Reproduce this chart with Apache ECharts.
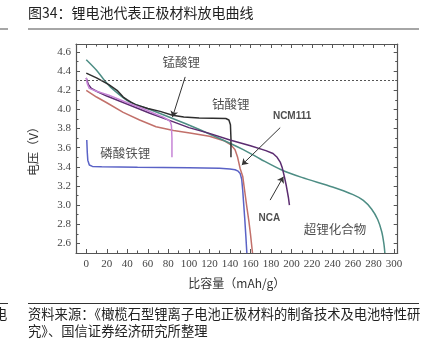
<!DOCTYPE html>
<html><head><meta charset="utf-8">
<script src="https://cdn.jsdelivr.net/npm/echarts@6/dist/echarts.min.js"></script>
<style>html,body{margin:0;padding:0;background:#fff}#c{width:439px;height:346px}</style>
</head><body><div id="c"></div>
<script>
// ---- tick labels ----
const xTickLabels = [0,20,40,60,80,100,120,140,160,180,200,220,240,260,280,300];
const xMinorTicks = [10,30,50,70,90,110,130,150,170,190,210,230,250,270,290];
const yTickLabels = [2.6,2.8,3.0,3.2,3.4,3.6,3.8,4.0,4.2,4.4,4.6];
const yMinorTicks = [2.7,2.9,3.1,3.3,3.5,3.7,3.9,4.1,4.3,4.5];
const cutoffVoltage = 4.3;

// ---- series: capacity (mAh/g) and voltage (V) ----
const lfpCap  = [0.5,1,1.5,3,6,15,50,100,130,140,145,148,150,151.5,152.5,153.5,154.5,155.5,156.5];
const lfpVolt = [3.68,3.55,3.47,3.42,3.405,3.40,3.395,3.39,3.385,3.378,3.37,3.355,3.33,3.27,3.15,3.0,2.85,2.68,2.5];

const lmoCap  = [0,1,3,10,22,40,55,68,75,80,82,83,83.5,83.5];
const lmoVolt = [4.33,4.27,4.22,4.19,4.15,4.07,4.01,3.95,3.92,3.89,3.87,3.83,3.7,3.5];

const lcoCap  = [0,10,22,30,36,40,44,48,60,72,84,95,110,136,139,140.5,141,141];
const lcoVolt = [4.38,4.33,4.26,4.2,4.13,4.10,4.075,4.05,4.01,3.98,3.94,3.92,3.91,3.905,3.89,3.84,3.7,3.5];

const ncmCap  = [0,10,20,36,52,68,85,101,120,135,141,145,147.5,150,152.5,154.5,156.5,158.5,160,162];
const ncmVolt = [4.2,4.13,4.07,3.97,3.89,3.82,3.78,3.755,3.72,3.67,3.63,3.58,3.5,3.38,3.3,3.14,2.98,2.83,2.7,2.5];

const ncaCap  = [0,2,5,10,20,39,62,85,100,120,140,160,175,182,186,189,191,193,195,197,198];
const ncaVolt = [4.33,4.26,4.22,4.19,4.14,4.06,3.96,3.87,3.81,3.75,3.68,3.62,3.57,3.54,3.5,3.45,3.39,3.3,3.2,3.08,3.0];

const lrCap   = [0,10,18,25,42,62,97,125,153,170,190,210,240,260,270,278,284,288,290,291];
const lrVolt  = [4.52,4.41,4.3,4.22,4.08,4.0,3.85,3.72,3.58,3.48,3.37,3.29,3.19,3.11,3.05,2.96,2.85,2.72,2.6,2.5];

// ---- annotations (data coords) ----
const labelNames = ['锰酸锂','钴酸锂','磷酸铁锂','超锂化合物'];
const labelCap   = [92.5,140.7,38,242.5];
const labelVolt  = [4.49,4.054,3.54,2.75];
const latinNames = ['NCM111','NCA'];
const latinCap   = [200.6,178.5];
const latinVolt  = [3.93,2.86];
const arrowFromCap  = [96.4,189,179.2];
const arrowFromVolt = [4.34,3.81,3.053];
const arrowToCap    = [84,151.6,192.1];
const arrowToVolt   = [3.92,3.42,3.297];

const zip = (a,b)=>a.map((v,i)=>[v,b[i]]);
const XMIN=-10, XMAX=303.5, YMIN=2.5, YMAX=4.684;
const axisCol='#555';

function xAx(pos, ticks, len, label, line){
  return {type:'value',position:pos,min:XMIN,max:XMAX,splitLine:{show:false},
    axisLine:{show:line,onZero:false,lineStyle:{color:axisCol,width:1.2}},
    axisTick:{show:true,inside:true,length:len,customValues:ticks,lineStyle:{color:axisCol,width:1}},
    axisLabel:{show:label,customValues:ticks,fontFamily:'Liberation Serif',fontSize:11,color:'#444',margin:6}};
}
function yAx(pos, ticks, len, label, line){
  return {type:'value',position:pos,min:YMIN,max:YMAX,splitLine:{show:false},
    axisLine:{show:line,onZero:false,lineStyle:{color:axisCol,width:1.2}},
    axisTick:{show:true,inside:true,length:len,customValues:ticks,lineStyle:{color:axisCol,width:1}},
    axisLabel:{show:label,customValues:ticks,formatter:v=>v.toFixed(1),fontFamily:'Liberation Serif',fontSize:11,color:'#444',margin:5}};
}
const xAxes=[xAx('bottom',xTickLabels,4,true,true),xAx('bottom',xMinorTicks,2.5,false,false),
             xAx('top',xTickLabels,4,false,true),xAx('top',xMinorTicks,2.5,false,false)];
Object.assign(xAxes[0],{name:'比容量（mAh/g）',nameLocation:'middle',nameGap:24,
  nameTextStyle:{fontFamily:'Noto Sans CJK SC',fontSize:12,color:'#333'}});
const yAxes=[yAx('left',yTickLabels,4,true,true),yAx('left',yMinorTicks,2.5,false,false),
             yAx('right',yTickLabels,4,false,true),yAx('right',yMinorTicks,2.5,false,false)];
Object.assign(yAxes[0],{name:'电压（V）',nameLocation:'middle',nameGap:37,nameRotate:90,
  nameTextStyle:{fontFamily:'Noto Sans CJK SC',fontSize:12,color:'#333'}});

function line(name,cap,volt,color,smooth){
  return {type:'line',name:name,data:zip(cap,volt),showSymbol:false,symbol:'none',smooth:smooth||false,
    lineStyle:{color:color,width:1.5},itemStyle:{color:color},z:3,silent:true};
}
const series=[
  line('磷酸铁锂',lfpCap,lfpVolt,'#5a62c6'),
  line('NCM111',ncmCap,ncmVolt,'#c2706a'),
  line('超锂化合物',lrCap,lrVolt,'#4d8d84',0.3),
  line('钴酸锂',lcoCap,lcoVolt,'#2e2e2e'),
  line('NCA',ncaCap,ncaVolt,'#5b2c70'),
  line('锰酸锂',lmoCap,lmoVolt,'#c684d6'),
];
series[0].markLine={silent:true,symbol:['none','none'],label:{show:false},
  lineStyle:{color:'#555',type:[2,2],width:1},data:[{yAxis:cutoffVoltage}]};
series.push({type:'scatter',symbolSize:0,z:5,silent:true,
  data:labelNames.map((n,i)=>({name:n,value:[labelCap[i],labelVolt[i]]})),
  label:{show:true,position:'inside',formatter:'{b}',fontFamily:'Noto Sans CJK SC',fontSize:12.5,color:'#222'}});
series.push({type:'scatter',symbolSize:0,z:5,silent:true,
  data:latinNames.map((n,i)=>({name:n,value:[latinCap[i],latinVolt[i]]})),
  label:{show:true,position:'inside',formatter:'{b}',fontFamily:'Liberation Sans',fontWeight:'bold',fontSize:10,color:'#222'}});
series.push({type:'lines',coordinateSystem:'cartesian2d',silent:true,z:6,
  symbol:['none','arrow'],symbolSize:6,
  lineStyle:{color:'#333',width:1,opacity:1,curveness:0},
  data:arrowFromCap.map((c,i)=>({coords:[[c,arrowFromVolt[i]],[arrowToCap[i],arrowToVolt[i]]]}))});

const chart=echarts.init(document.getElementById('c'),null,{renderer:'canvas'});
chart.setOption({
  animation:false,
  grid:{left:76,top:44,right:41.3,bottom:93,containLabel:false},
  xAxis:xAxes, yAxis:yAxes, series:series,
  graphic:[
    {type:'text',left:28,top:6,style:{text:'图34：锂电池代表正极材料放电曲线',fontFamily:'Noto Sans CJK SC',fontSize:14,fill:'#222'}},
    {type:'line',shape:{x1:28,y1:29,x2:419,y2:29},style:{stroke:'#888',lineWidth:1.5}},
    {type:'line',shape:{x1:0,y1:29,x2:8,y2:29},style:{stroke:'#888',lineWidth:1.5}},
    {type:'line',shape:{x1:28,y1:303.5,x2:419,y2:303.5},style:{stroke:'#333',lineWidth:1}},
    {type:'line',shape:{x1:0,y1:303.5,x2:8,y2:303.5},style:{stroke:'#333',lineWidth:1}},
    {type:'text',left:-6,top:307,style:{text:'电',fontFamily:'Noto Sans CJK SC',fontSize:13.3,fill:'#222'}},
    {type:'text',left:28,top:307,style:{text:'资料来源：《橄榄石型锂离子电池正极材料的制备技术及电池特性研',fontFamily:'Noto Sans CJK SC',fontSize:13.3,fill:'#222'}},
    {type:'text',left:28,top:324,style:{text:'究》、国信证券经济研究所整理',fontFamily:'Noto Sans CJK SC',fontSize:13.3,fill:'#222'}}
  ]
});
</script></body></html>
